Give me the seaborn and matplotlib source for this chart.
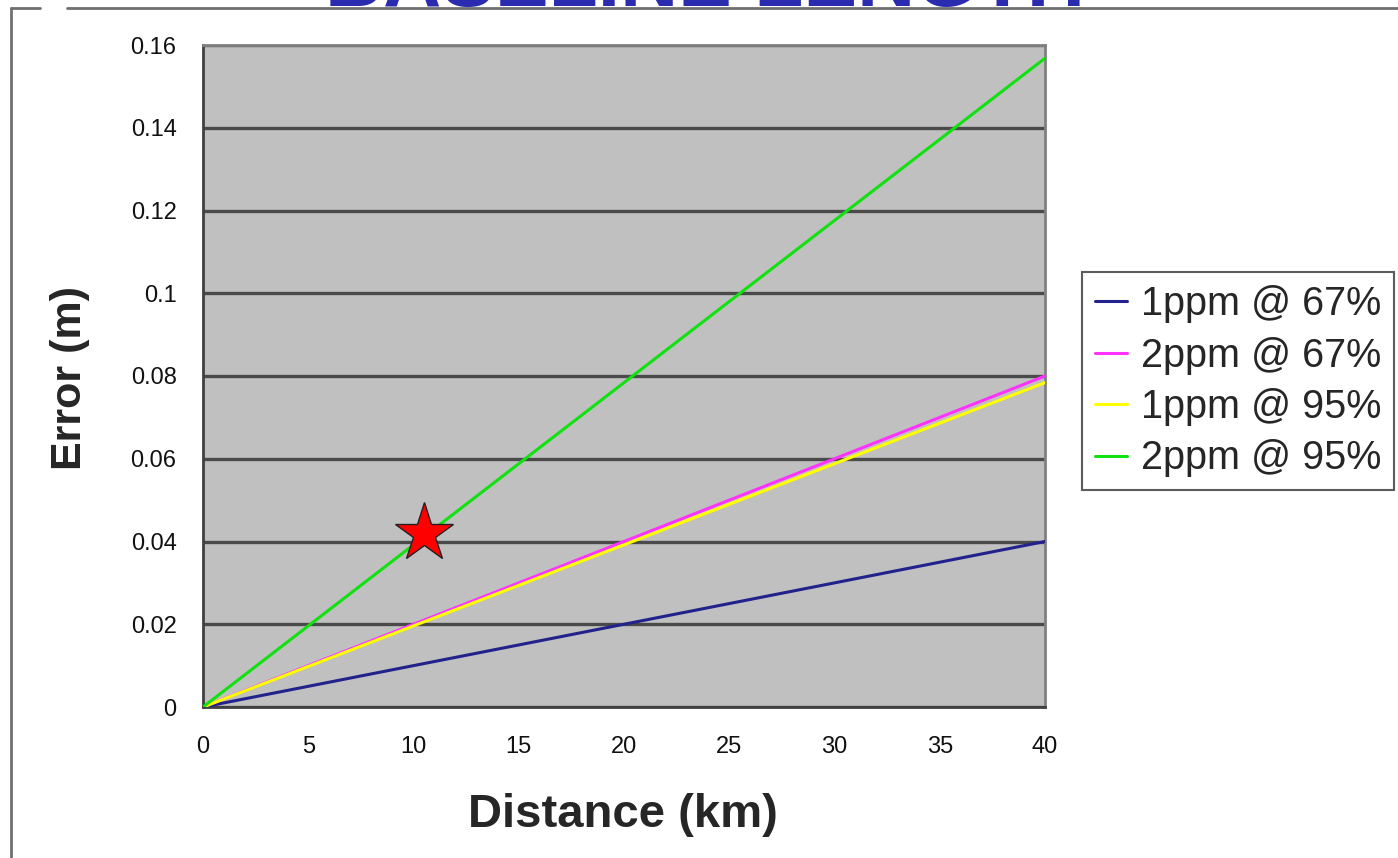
import numpy as np
import pandas as pd
import matplotlib
matplotlib.use("Agg")
import matplotlib.pyplot as plt
from matplotlib.lines import Line2D
from matplotlib.ticker import FuncFormatter
import seaborn as sns

# ---- data ----
distance_km = [0, 5, 10, 15, 20, 25, 30, 35, 40]
err_1ppm_67 = [0.0, 0.005, 0.010, 0.015, 0.020, 0.025, 0.030, 0.035, 0.040]
err_2ppm_67 = [0.0, 0.010, 0.020, 0.030, 0.040, 0.050, 0.060, 0.070, 0.080]
err_1ppm_95 = [0.0, 0.0098, 0.0196, 0.0294, 0.0392, 0.049, 0.0588, 0.0686, 0.0784]
err_2ppm_95 = [0.0, 0.0196, 0.0392, 0.0588, 0.0784, 0.098, 0.1176, 0.1372, 0.1568]
series_names = ["1ppm @ 67%", "2ppm @ 67%", "1ppm @ 95%", "2ppm @ 95%"]
series_colors = ["#22228c", "#ff33ff", "#ffff00", "#11e011"]
star_x = [10.5]
star_y = [0.042]
x_ticks = [0, 5, 10, 15, 20, 25, 30, 35, 40]
y_ticks = [0, 0.02, 0.04, 0.06, 0.08, 0.1, 0.12, 0.14, 0.16]
title_text = "BASELINE LENGTH"

rows = []
for name, vals in zip(series_names, [err_1ppm_67, err_2ppm_67, err_1ppm_95, err_2ppm_95]):
    for d, v in zip(distance_km, vals):
        rows.append({"Distance": d, "Error": v, "Series": name})
df = pd.DataFrame(rows)

sns.set_theme(style="white")
plt.rcParams["font.family"] = ["Liberation Sans", "DejaVu Sans"]

fig = plt.figure(figsize=(13.98, 8.58), dpi=100)
fig.patch.set_facecolor("white")
ax = fig.add_axes([203 / 1398, 1 - 707 / 858, (1045 - 203) / 1398, (707 - 45) / 858])
ax.set_facecolor("#c0c0c0")

sns.lineplot(data=df, x="Distance", y="Error", hue="Series", hue_order=series_names,
             palette=dict(zip(series_names, series_colors)), linewidth=2.2, ax=ax,
             legend=False, zorder=3)

ax.plot(star_x, star_y, marker="*", markersize=44, color="#ff0000",
        markeredgecolor="#222222", markeredgewidth=1.0, linestyle="none", zorder=5)

ax.set_xlim(0, 40)
ax.set_ylim(0, 0.16)
ax.set_xticks(x_ticks)
ax.set_yticks(y_ticks)
ax.yaxis.set_major_formatter(FuncFormatter(lambda v, p: "%g" % round(v, 4)))
ax.xaxis.set_major_formatter(FuncFormatter(lambda v, p: "%g" % v))
ax.grid(axis="y", color="#4a4a4a", linewidth=2.4, zorder=1)
ax.set_axisbelow(True)
ax.tick_params(axis="both", direction="out", length=8, width=1.5, color="#404040",
               labelsize=17, labelcolor="#111111")
ax.tick_params(axis="x", pad=13)
ax.tick_params(axis="y", pad=11)
for s in ["left", "bottom"]:
    ax.spines[s].set_color("#404040")
    ax.spines[s].set_linewidth(2)
for s in ["top", "right"]:
    ax.spines[s].set_color("#808080")
    ax.spines[s].set_linewidth(2)

ax.set_xlabel("Distance (km)", fontsize=34, fontweight="bold", va="center")
ax.xaxis.set_label_coords(0.499, -0.163)
ax.set_ylabel("Error (m)", fontsize=31, fontweight="bold", va="center")
ax.yaxis.set_label_coords(-0.158, 0.497)

handles = [Line2D([0], [0], color=c, linewidth=2.2) for c in series_colors]
leg = fig.legend(handles, series_names, loc="upper left",
                 bbox_to_anchor=(1082 / 1398, 1 - 272 / 858), fontsize=28.5,
                 frameon=True, fancybox=False, edgecolor="#333333",
                 handlelength=0.8, handletextpad=0.35, borderpad=0.33,
                 labelspacing=0.34, borderaxespad=0)
leg.get_frame().set_linewidth(1.5)

# outer frame of the slide
fc = "#707070"
fig.add_artist(Line2D([11 / 1398, 11 / 1398], [0, 1 - 8 / 858], color=fc,
                      linewidth=2, transform=fig.transFigure))
fig.add_artist(Line2D([67 / 1398, 1], [1 - 8 / 858, 1 - 8 / 858], color=fc,
                      linewidth=2, transform=fig.transFigure))
fig.add_artist(Line2D([11 / 1398, 40 / 1398], [1 - 8 / 858, 1 - 8 / 858], color=fc,
                      linewidth=2, transform=fig.transFigure))

fig.text(705 / 1398, 1 - 6 / 858, title_text, ha="center", va="baseline",
         fontsize=58, fontweight="bold", color="#2b2bb0")

fig.savefig("out.png", dpi=100)
